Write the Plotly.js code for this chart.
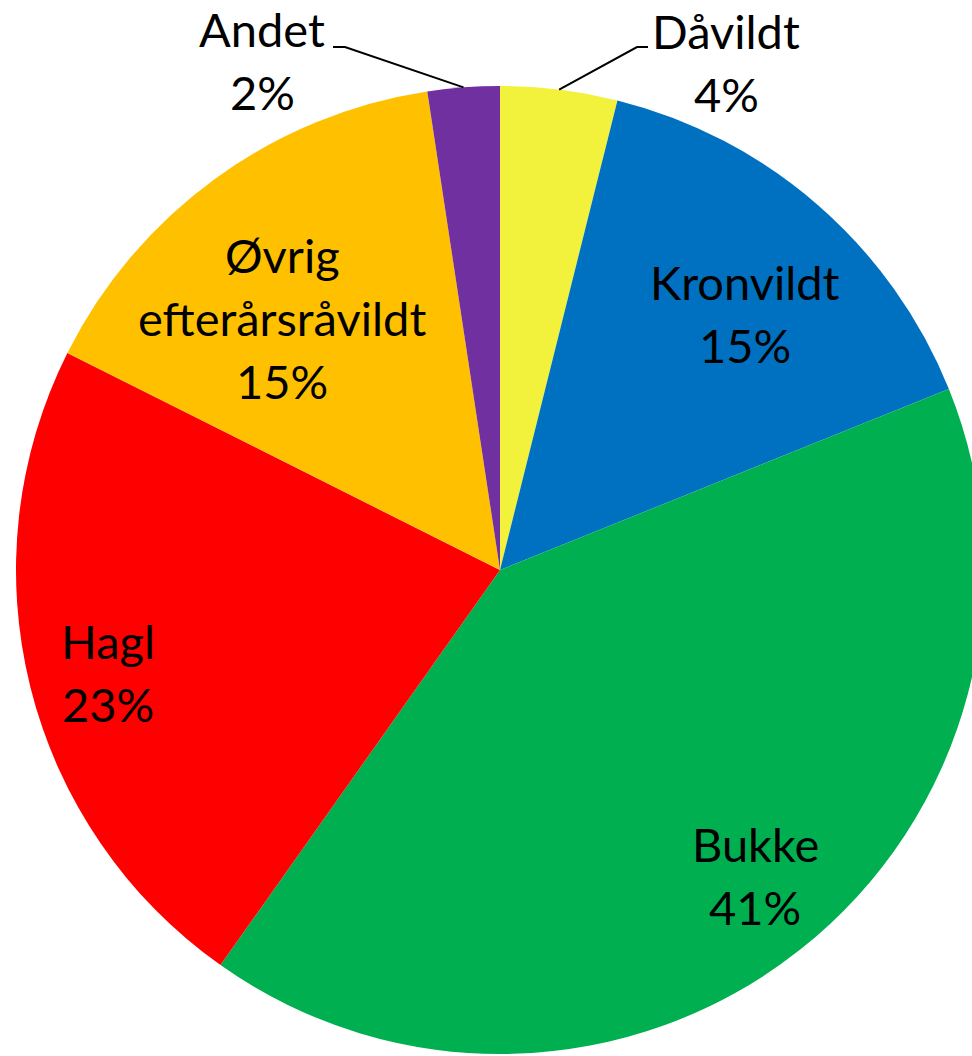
<!DOCTYPE html>
<html>
<head>
<meta charset="utf-8">
<script src="https://cdn.plot.ly/plotly-3.0.1.min.js"></script>
<style>
  html, body { margin:0; padding:0; background:#fff; overflow:hidden; }
  #chart { width:1000px; height:1056px; }
</style>
</head>
<body>
<div id="chart"></div>
<script>

/* ==========================================
   DATA
========================================== */

const labels = ["Dåvildt", "Kronvildt", "Bukke", "Hagl", "Øvrig efterårsråvildt", "Andet"];

const labelLines = [["Dåvildt"], ["Kronvildt"], ["Bukke"], ["Hagl"], ["Øvrig", "efterårsråvildt"], ["Andet"]];

const shares = [3.9, 15.0, 40.9, 22.6, 15.2, 2.4];

const colors = ["#F2F23C", "#0070C0", "#00B050", "#FF0000", "#FFC000", "#7030A0"];


/* ==========================================
   LAYOUT HELPERS (pixels of the plot div)
========================================== */

const W = 1000, H = 1056;

const CX = 500, CY = 570, R = 484;

// centre of the first text line of each label, in pixels
const labelAnchor = [[726, 31], [745, 282], [755, 844], [108, 641], [282, 255], [262, 29]];

const lineGap = 63;

// leader line elbows for the labels outside the pie (null = inside)
const leaderElbow = [[[637, 47], [648, 47]], null, null, null, null, [[345, 47], [333, 47]]];

function px(x){ return x / W; }

function py(y){ return 1 - y / H; }


/* ==========================================
   LABELS
========================================== */

const total = shares.reduce((a,b)=>a+b, 0);

let annotations = [];

let shapes = [];

let cumulative = 0;

shares.forEach((value, i)=>{

    const pct = Math.round(value / total * 100) + "%";

    const lines = labelLines[i].concat([pct]);

    lines.forEach((txt, k)=>{

        annotations.push({

            text:txt,

            x:px(labelAnchor[i][0]),

            y:py(labelAnchor[i][1] + k * lineGap),

            xref:"paper",

            yref:"paper",

            xanchor:"center",

            yanchor:"middle",

            showarrow:false,

            font:{

                family:"Lato, 'Open Sans', sans-serif",

                size:47,

                color:"#000"

            }

        });

    });

    // angle of the slice middle, clockwise from 12 o'clock
    const mid = (cumulative + value / 2) / total * 2 * Math.PI;

    cumulative += value;

    if(leaderElbow[i]){

        const tipX = CX + R * Math.sin(mid);

        const tipY = CY - R * Math.cos(mid);

        let path = "M " + px(tipX) + " " + py(tipY);

        leaderElbow[i].forEach(p=>{

            path += " L " + px(p[0]) + " " + py(p[1]);

        });

        shapes.push({

            type:"path",

            xref:"paper",

            yref:"paper",

            path:path,

            line:{ color:"#000", width:2 }

        });

    }

});


/* ==========================================
   PIE
========================================== */

Plotly.newPlot(

    "chart",

    [

        {

            type:"pie",

            labels:labels,

            values:shares,

            sort:false,

            direction:"clockwise",

            rotation:0,

            marker:{

                colors:colors,

                line:{ width:0 }

            },

            textinfo:"none",

            hoverinfo:"none",

            showlegend:false,

            domain:{

                x:[(CX - R) / W, (CX + R) / W],

                y:[(H - CY - R) / H, (H - CY + R) / H]

            }

        }

    ],

    {

        width:W,

        height:H,

        margin:{ l:0, r:0, t:0, b:0 },

        paper_bgcolor:"#fff",

        showlegend:false,

        annotations:annotations,

        shapes:shapes

    },

    {

        staticPlot:true

    }

);

</script>
</body>
</html>
